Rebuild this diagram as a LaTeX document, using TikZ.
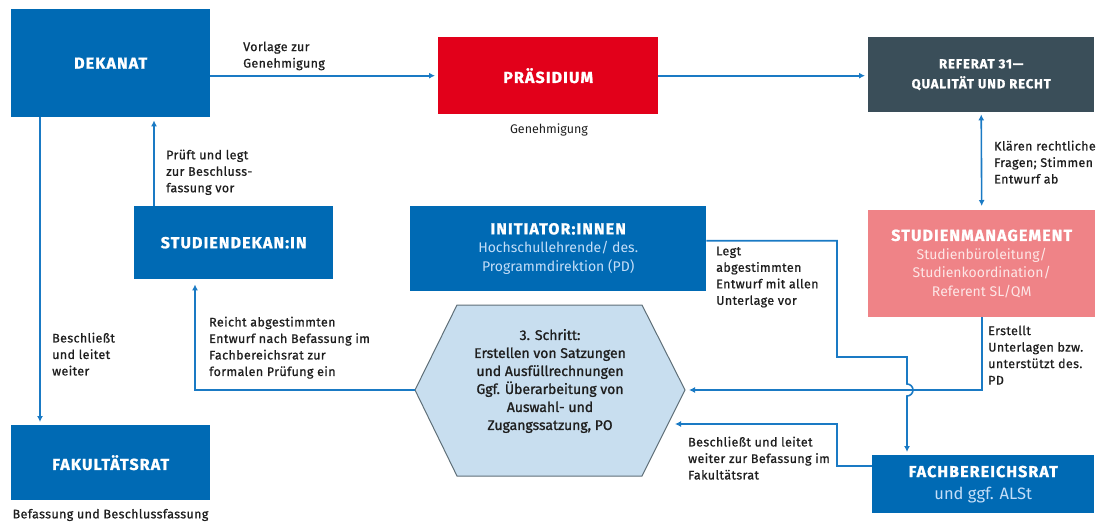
\documentclass[tikz,border=0pt]{standalone}
\usepackage{fontspec}
\setmainfont{Fira Sans}
\newfontfamily\ttlfont{Fira Sans}[LetterSpace=7,BoldFeatures={FakeBold=1.2}]
\newfontfamily\lblfont{Fira Sans}[LetterSpace=3,FakeBold=0.8]
\newfontfamily\hexfont{Fira Sans}[FakeBold=1.2]
\usetikzlibrary{arrows.meta}
\definecolor{boxblue}{RGB}{0,106,180}
\definecolor{linecol}{RGB}{26,122,196}
\definecolor{praesred}{RGB}{226,0,26}
\definecolor{refdark}{RGB}{58,78,89}
\definecolor{smpink}{RGB}{239,131,135}
\definecolor{hexfill}{RGB}{200,222,239}
\definecolor{hexline}{RGB}{95,111,120}
\definecolor{subblue}{RGB}{196,222,248}
\definecolor{subpink}{RGB}{253,230,230}
\definecolor{lbltext}{RGB}{30,30,30}
\begin{document}
\begin{tikzpicture}[x=1pt,y=-1pt,
  box/.style={draw=none,inner sep=0pt,anchor=north west,text=white,align=center},
  bluebox/.style={box,fill=boxblue},
  ttl/.style={font=\ttlfont\bfseries\fontsize{16}{19}\selectfont},
  arr/.style={draw=linecol,line width=1.6pt,-{Latex[length=6pt,width=6pt]},shorten >=3pt},
  dblarr/.style={draw=linecol,line width=1.6pt,{Latex[length=6pt,width=6pt]}-{Latex[length=6pt,width=6pt]},shorten >=4pt,shorten <=2pt},
  lbl/.style={anchor=north west,inner sep=0pt,align=left,text=lbltext,font=\lblfont\fontsize{12.5}{16.5}\selectfont},
  plainlbl/.style={inner sep=0pt,text=lbltext,font=\fontsize{12.5}{16}\selectfont}
]
\useasboundingbox (0,0) rectangle (1099,525);

% boxes
\node[bluebox,ttl,minimum width=199pt,minimum height=108pt] (dek) at (11,9) {DEKANAT};
\node[box,fill=praesred,ttl,minimum width=220pt,minimum height=77pt] (praes) at (438,37) {PRÄSIDIUM};
\node[box,fill=refdark,minimum width=226pt,minimum height=75pt,
      font=\ttlfont\bfseries\fontsize{13}{20}\selectfont] (ref) at (868,37) {REFERAT 31—\\QUALITÄT UND RECHT};
\node[bluebox,ttl,minimum width=199pt,minimum height=73pt] (sdek) at (134,206) {STUDIENDEKAN:IN};
\node[bluebox,ttl,minimum width=199pt,minimum height=75pt] (fak) at (11,425) {FAKULTÄTSRAT};
\node[bluebox,minimum width=296pt,minimum height=85pt,font=\fontsize{14}{18.5}\selectfont] (ini) at (410,206)
  {{\ttlfont\bfseries\fontsize{16}{18.5}\selectfont INITIATOR:INNEN}\\
   {\color{subblue}Hochschullehrende/ des.}\\
   {\color{subblue}Programmdirektion (PD)}};
\node[box,fill=smpink,minimum width=227pt,minimum height=107pt,font=\fontsize{14}{18.5}\selectfont] (sm) at (868,210)
  {{\ttlfont\bfseries\fontsize{16}{18.5}\selectfont STUDIENMANAGEMENT}\\
   {\color{subpink}Studienbüroleitung/}\\
   {\color{subpink}Studienkoordination/}\\
   {\color{subpink}Referent SL/QM}};
\node[bluebox,minimum width=222pt,minimum height=58pt,font=\fontsize{16.5}{22}\selectfont] (fach) at (872,455)
  {{\ttlfont\bfseries\fontsize{16}{22}\selectfont FACHBEREICHSRAT}\\
   {\color{subblue}und ggf. ALSt}};

% hexagon
\coordinate (hL) at (415,390);
\coordinate (hTL) at (457,305);
\coordinate (hTR) at (642,305);
\coordinate (hR) at (685,390);
\coordinate (hBR) at (642,476);
\coordinate (hBL) at (457,476);
\coordinate (hE) at (668,424);
\draw[fill=hexfill,draw=hexline,line width=1pt] (hL) -- (hTL) -- (hTR) -- (hR) -- (hBR) -- (hBL) -- cycle;
\node[inner sep=0pt,align=center,text=lbltext,font=\hexfont\fontsize{14}{18}\selectfont] (hex) at (550,381)
  {3. Schritt:\\Erstellen von Satzungen\\und Ausfüllrechnungen\\Ggf. Überarbeitung von\\Auswahl- und\\Zugangssatzung, PO};

% connectors
\draw[arr] (praes.west -| dek.east) -- (praes.west);
\draw[arr] (praes.east) -- (praes.east -| ref.west);
\draw[dblarr] (ref.south) -- (sm.north);
\draw[arr] ([xshift=20pt]sdek.north west) -- ([xshift=20pt]sdek.north west |- dek.south);
\draw[arr] ([xshift=29pt]dek.south west) -- ([xshift=29pt]dek.south west |- fak.north);
\draw[arr,shorten >=5pt] (hL) -| ([xshift=61pt]sdek.south west);
\coordinate (k1) at (837,357);
\coordinate (k2) at (907,357);
\coordinate (k3) at (837,424);
\draw[arr] ([yshift=8pt]ini.east) -| (k1) -- (k2) -- (907,384)
   arc[start angle=90,end angle=-90,radius=6pt] -- ([xshift=35pt]fach.north west);
\draw[arr,shorten >=4pt] (sm.south) |- (hR);
\draw[arr,shorten >=7pt] ([yshift=18pt]fach.west) -| (k3) -- (hE);

% labels
\node[lbl] (l1) at (243,41.5) {Vorlage zur\\Genehmigung};
\node[lbl] (l2) at (166,149.5) {Prüft und legt\\zur Beschluss-\\fassung vor};
\node[lbl] (l3) at (52,332.5) {Beschließt\\und leitet\\weiter};
\node[lbl] (l4) at (209,316.5) {Reicht abgestimmten\\Entwurf nach Befassung im\\Fachbereichsrat zur\\formalen Prüfung ein};
\node[plainlbl,font=\lblfont\fontsize{12.5}{16}\selectfont] (l5) at (110.5,515) {Befassung und Beschlussfassung};
\node[plainlbl] (l6) at (549,130) {Genehmigung};
\node[lbl] (l7) at (994,140.5) {Klären rechtliche\\Fragen; Stimmen\\Entwurf ab};
\node[lbl] (l8) at (716,246.5) {Legt\\abgestimmten\\Entwurf mit allen\\Unterlage vor};
\node[lbl] (l9) at (988,325.5) {Erstellt\\Unterlagen bzw.\\unterstützt des.\\PD};
\node[lbl] (l10) at (688,436.5) {Beschließt und leitet\\weiter zur Befassung im\\Fakultätsrat};
\end{tikzpicture}
\end{document}
